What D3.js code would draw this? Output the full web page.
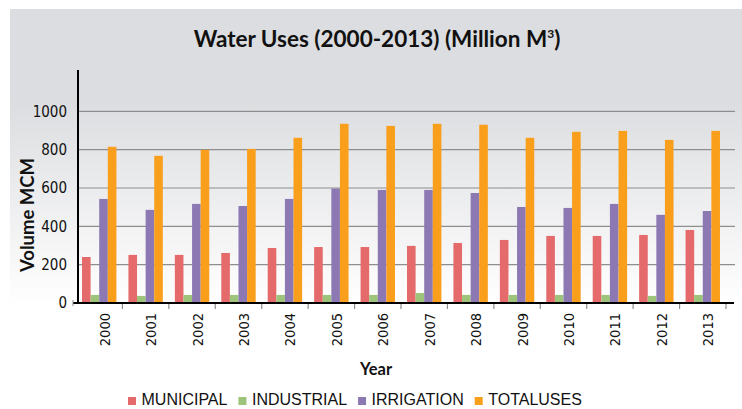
<!DOCTYPE html>
<html>
<head>
<meta charset="utf-8">
<script src="https://cdn.jsdelivr.net/npm/d3@7"></script>
<style>
  html, body { margin: 0; padding: 0; background: #ffffff; }
  svg { display: block; }
</style>
</head>
<body>
<svg id="chart" width="742" height="409"></svg>
<script>
const years = ["2000","2001","2002","2003","2004","2005","2006","2007","2008","2009","2010","2011","2012","2013"];
const seriesNames = ["MUNICIPAL","INDUSTRIAL","IRRIGATION","TOTALUSES"];
const municipal  = [240,251,251,261,287,292,292,298,313,329,350,350,355,381];
const industrial = [42,37,42,42,42,42,42,52,42,42,42,42,37,42];
const irrigation = [543,486,517,506,543,597,590,590,574,501,496,517,460,480];
const totaluses  = [815,768,799,804,862,935,924,935,930,862,893,898,851,898];
const yTicks = [0,200,400,600,800,1000];
const colors = ["#e46a6b","#9dc47a","#8c79b3","#f99f1c"];

const seriesValues = [municipal, industrial, irrigation, totaluses];
const table = years.map((y, i) => ({year: y, values: seriesValues.map(s => s[i])}));

const svg = d3.select("#chart");
const narrow = "'Liberation Sans Narrow', 'DejaVu Sans Condensed', sans-serif";

// background gradient panel
const defs = svg.append("defs");
const grad = defs.append("linearGradient").attr("id","bg").attr("x1",0).attr("y1",0).attr("x2",0).attr("y2",1);
grad.append("stop").attr("offset","0").attr("stop-color","#dcdde0");
grad.append("stop").attr("offset","0.23").attr("stop-color","#dcdde0");
grad.append("stop").attr("offset","0.74").attr("stop-color","#ffffff");
grad.append("stop").attr("offset","1").attr("stop-color","#ffffff");
svg.append("rect").attr("x",10).attr("y",9).attr("width",732).attr("height",400).attr("fill","url(#bg)");

const x = d3.scaleBand().domain(years).range([76, 726]).padding(0);
const xs = d3.scaleBand().domain(seriesNames).range([6, 6 + 34.4]).padding(0);
const y = d3.scaleLinear().domain([0, 1200]).range([303, 73]);

// gridlines
svg.append("g").selectAll("line").data(yTicks.filter(t => t > 0)).join("line")
  .attr("x1", 78).attr("x2", 735)
  .attr("y1", d => y(d)).attr("y2", d => y(d))
  .attr("stroke", "#8e8e8e").attr("stroke-width", 1.2);

// bars
const groups = svg.append("g").selectAll("g").data(table).join("g")
  .attr("transform", d => `translate(${x(d.year)},0)`);
groups.selectAll("rect").data(d => d.values.map((v, i) => ({name: seriesNames[i], v, i}))).join("rect")
  .attr("x", d => xs(d.name))
  .attr("width", xs.bandwidth())
  .attr("y", d => y(d.v))
  .attr("height", d => y(0) - y(d.v))
  .attr("fill", d => colors[d.i]);

// y axis labels
const yAxis = d3.axisLeft(y).tickValues(yTicks).tickFormat(d3.format("d")).tickSize(0).tickPadding(0);
const gy = svg.append("g").attr("transform", "translate(67,0)").call(yAxis);
gy.select(".domain").remove();
gy.selectAll("text")
  .attr("font-family", narrow)
  .attr("font-stretch", "condensed")
  .attr("font-size", 15).attr("fill", "#111");

// x axis ticks (category boundaries)
const boundaries = years.map(d => x(d)).concat([x(years[years.length-1]) + x.bandwidth()]).slice(1);
svg.append("g").selectAll("line").data(boundaries).join("line")
  .attr("x1", d => d).attr("x2", d => d)
  .attr("y1", y(0)).attr("y2", y(0) + 6)
  .attr("stroke", "#8e8e8e").attr("stroke-width", 1.2);

// x labels
svg.append("g").selectAll("text").data(years).join("text")
  .attr("transform", d => `translate(${x(d) + x.bandwidth()/2 + 10.5},313) rotate(-90)`)
  .attr("text-anchor", "end")
  .attr("font-family", narrow)
  .attr("font-stretch", "condensed")
  .attr("font-size", 14.5).attr("fill", "#111")
  .text(d => d);

// axis lines
svg.append("line").attr("x1", 78).attr("x2", 78).attr("y1", 70).attr("y2", y(0) + 1)
  .attr("stroke", "#000").attr("stroke-width", 2);
svg.append("line").attr("x1", 73).attr("x2", 734).attr("y1", y(0)).attr("y2", y(0))
  .attr("stroke", "#000").attr("stroke-width", 2.2);
svg.append("line").attr("x1", 73).attr("x2", 73).attr("y1", y(0) - 3).attr("y2", y(0) + 3)
  .attr("stroke", "#8e8e8e").attr("stroke-width", 1);

// title
const title = svg.append("text").attr("x", 377).attr("y", 47).attr("text-anchor", "middle")
  .attr("font-family", "Lato, 'Open Sans', sans-serif").attr("font-weight", "bold")
  .attr("font-size", 22.5).attr("fill", "#111");
title.append("tspan").text("Water Uses (2000-2013) (Million M");
title.append("tspan").attr("font-size", 12).attr("dy", -9).text("3");
title.append("tspan").attr("dy", 9).text(")");

// axis titles
svg.append("text").attr("transform", "translate(34,215) rotate(-90)").attr("text-anchor", "middle")
  .attr("font-family", "Lato, 'Open Sans', sans-serif").attr("font-weight", "bold")
  .attr("font-size", 18.5).attr("fill", "#111").text("Volume MCM");
svg.append("text").attr("x", 376).attr("y", 375).attr("text-anchor", "middle")
  .attr("font-family", "Lato, 'Open Sans', sans-serif").attr("font-weight", "bold")
  .attr("font-size", 16.5).attr("fill", "#111").text("Year");

// legend
const legend = svg.append("g");
let lx = 128;
seriesNames.forEach((name, i) => {
  legend.append("rect").attr("x", lx).attr("y", 397).attr("width", 8).attr("height", 8).attr("fill", colors[i]);
  const t = legend.append("text").attr("x", lx + 13.5).attr("y", 405)
    .attr("font-family", "'Liberation Sans', Arial, sans-serif")
    .attr("font-size", 16).attr("fill", "#111").text(name);
  lx += 13.5 + t.node().getComputedTextLength() + 11;
});
</script>
</body>
</html>
